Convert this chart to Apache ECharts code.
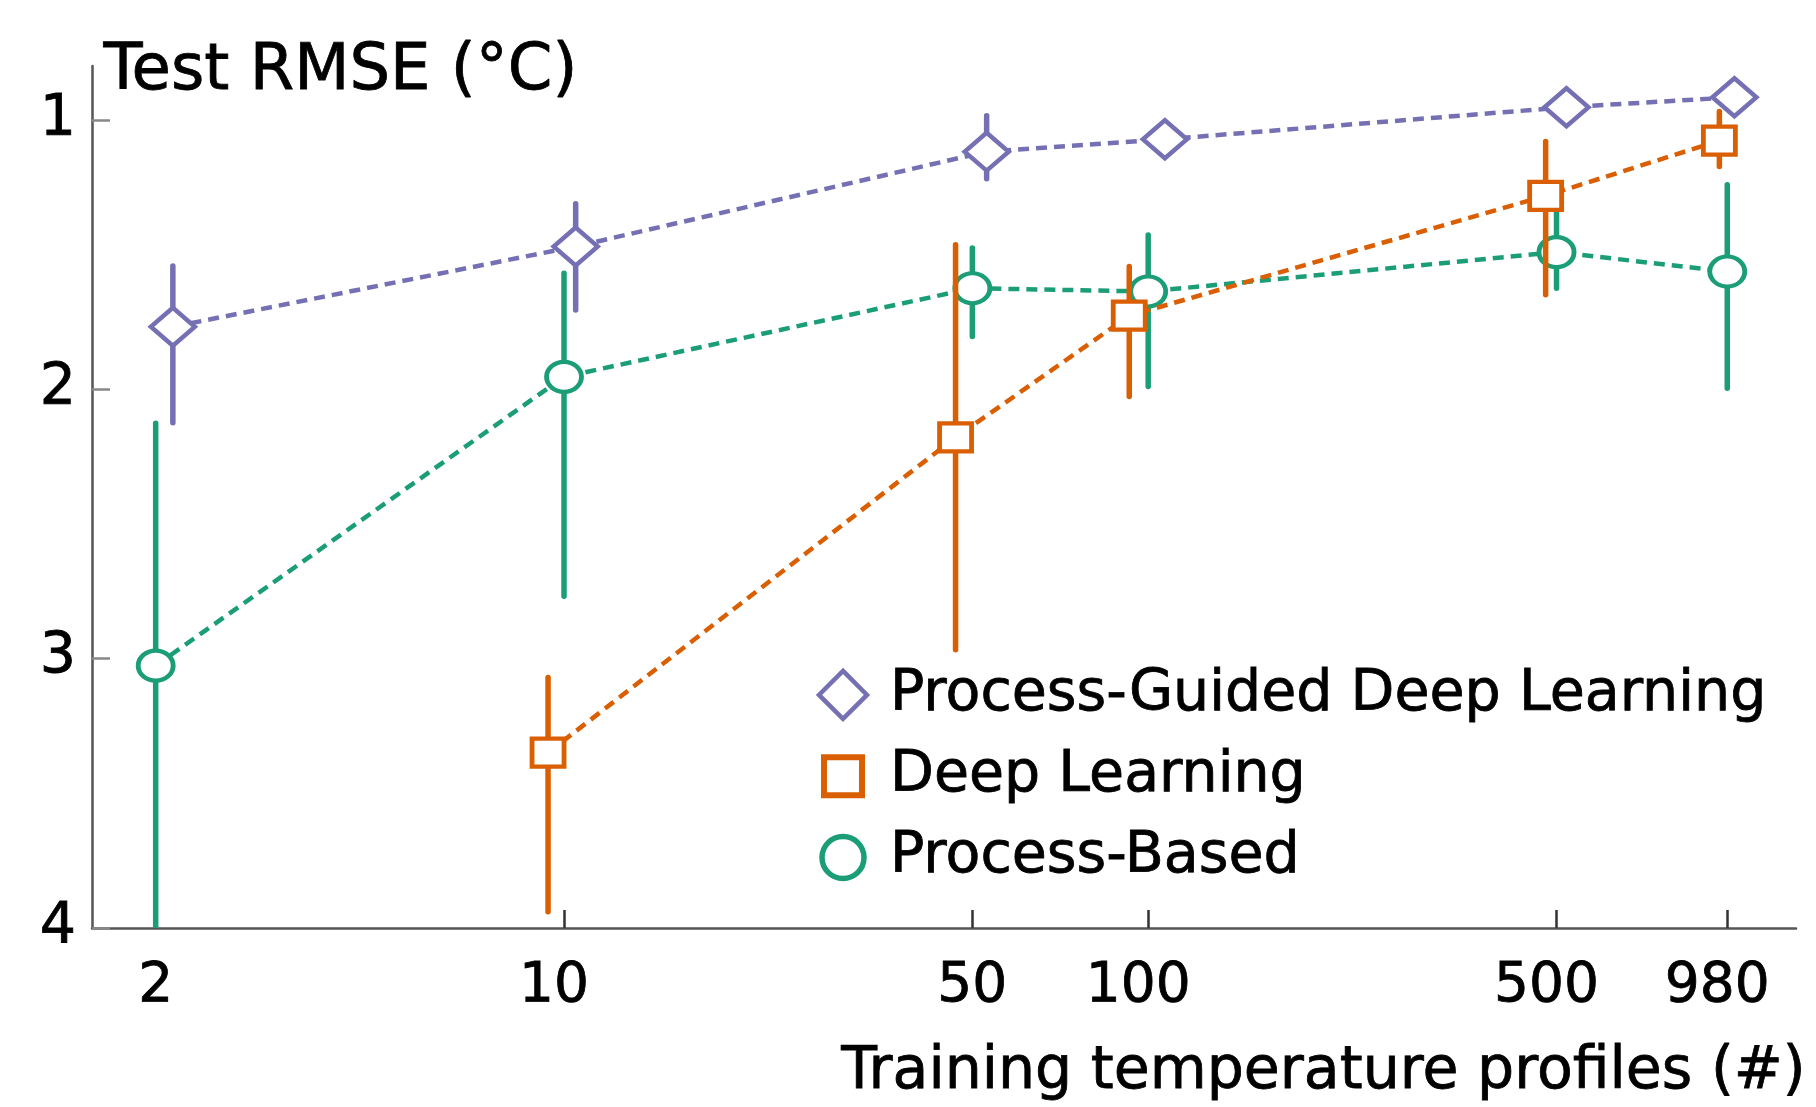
<!DOCTYPE html>
<html>
<head>
<meta charset="utf-8">
<script src="https://cdn.jsdelivr.net/npm/echarts@6/dist/echarts.min.js"></script>
<style>
html,body{margin:0;padding:0;background:#fff;}
#chart{width:1816px;height:1107px;}
</style>
</head>
<body>
<div id="chart"></div>
<script>
// ---- data ----
const xTicks = [2, 10, 50, 100, 500, 980];
const yTicks = [1, 2, 3, 4];

const seriesNames = ['Process-Guided Deep Learning', 'Deep Learning', 'Process-Based'];

// Process-Guided Deep Learning
const pgdlX   = [2.14, 10.47, 52.9, 106.8, 520, 1008];
const pgdlY   = [1.768, 1.470, 1.118, 1.072, 0.953, 0.916];
const pgdlLo  = [1.542, 1.311, 0.985, 1.030, 0.925, 0.890];
const pgdlHi  = [2.124, 1.706, 1.219, 1.110, 0.985, 0.945];

// Deep Learning
const dlX  = [9.39, 46.8, 92.8, 479, 950];
const dlY  = [3.349, 2.179, 1.727, 1.282, 1.077];
const dlLo = [3.070, 1.464, 1.544, 1.080, 0.969];
const dlHi = [3.940, 2.967, 2.027, 1.649, 1.173];

// Process-Based
const pbX  = [2, 10, 50, 100, 500, 980];
const pbY  = [3.026, 1.954, 1.625, 1.637, 1.491, 1.563];
const pbLo = [2.126, 1.569, 1.476, 1.427, 1.330, 1.241];
const pbHi = [4.000, 2.768, 1.804, 1.990, 1.625, 1.996];

const colors = { pgdl: '#7570b3', dl: '#d95f02', pb: '#1b9e77' };
const FONT = '"DejaVu Sans", sans-serif';

function pts(xs, ys) { return xs.map((x, i) => [x, ys[i]]); }
function errs(xs, lo, hi) { return xs.map((x, i) => [x, lo[i], hi[i]]); }

function errSeries(name, data, color, z) {
  return {
    type: 'custom', name: name, z: z, silent: true, clip: true,
    encode: { x: 0, y: [1, 2] },
    data: data,
    renderItem: function (params, api) {
      const x = api.value(0);
      const p1 = api.coord([x, api.value(1)]);
      const p2 = api.coord([x, api.value(2)]);
      return {
        type: 'line',
        shape: { x1: p1[0], y1: p1[1], x2: p2[0], y2: p2[1] },
        style: { stroke: color, lineWidth: 5.5, lineCap: 'round' }
      };
    }
  };
}

function lineSeries(name, data, color, symbol, size, z) {
  return {
    type: 'line', name: name, z: z, data: data, color: color,
    symbol: symbol, symbolSize: size, showAllSymbol: true,
    itemStyle: { color: '#fff', borderColor: color, borderWidth: 4.5 },
    lineStyle: { color: color, width: 4.5, type: [11, 7] },
    emphasis: { disabled: true }
  };
}

const squareIcon = 'path://M0,0 M48,48 M5,5 L43,5 L43,43 L5,43 Z';
const circleIcon = 'path://M0,0 M48,48 M3,24 A21,21 0 1 1 45,24 A21,21 0 1 1 3,24 Z';

const chart = echarts.init(document.getElementById('chart'), null, { renderer: 'canvas' });
chart.setOption({
  animation: false,
  backgroundColor: '#fff',
  grid: { left: 92, right: 20, top: 66, bottom: 179, containLabel: false },
  xAxis: {
    type: 'log', logBase: 10, min: 1.556, max: 1285,
    axisLine: { show: true, onZero: false, lineStyle: { color: '#555', width: 2.5 } },
    axisTick: { show: true, inside: true, length: 18, customValues: xTicks,
                lineStyle: { color: '#333', width: 2.5 } },
    axisLabel: { show: true, customValues: xTicks, margin: 31,
                 color: '#000', fontSize: 55, fontFamily: FONT,
                 textBorderColor: '#000', textBorderWidth: 0.8,
                 formatter: function (v) {
                   const n = Math.round(v);
                   return (n === 2 || n === 50) ? '{a|' + n + '}' : '{b|' + n + '}';
                 },
                 rich: {
                   a: { fontSize: 55, fontFamily: FONT, color: '#000',
                        textBorderColor: '#000', textBorderWidth: 0.8 },
                   b: { fontSize: 55, fontFamily: FONT, color: '#000',
                        textBorderColor: '#000', textBorderWidth: 0.8, padding: [0, 20, 0, 0] }
                 } },
    splitLine: { show: false },
    minorTick: { show: false }, minorSplitLine: { show: false }
  },
  yAxis: {
    type: 'value', inverse: true, min: 0.8, max: 4,
    axisLine: { show: true, lineStyle: { color: '#555', width: 2.5 } },
    axisTick: { show: true, inside: true, length: 18, customValues: yTicks,
                lineStyle: { color: '#888', width: 2.5 } },
    axisLabel: { show: true, customValues: yTicks, margin: 16,
                 color: '#000', fontSize: 57, fontFamily: FONT,
                 textBorderColor: '#000', textBorderWidth: 0.8,
                 padding: [0, 0, 16, 0] },
    splitLine: { show: false }
  },
  legend: {
    orient: 'vertical', left: 811, top: 661,
    itemWidth: 48, itemHeight: 48, itemGap: 23.5,
    selectedMode: false,
    textStyle: { color: '#000', fontSize: 57, fontFamily: FONT, lineHeight: 57,
                 textBorderColor: '#000', textBorderWidth: 0.8,
                 padding: [0, 0, 0, 18] },
    data: [
      { name: seriesNames[0], icon: 'diamond',
        itemStyle: { color: '#fff', borderColor: colors.pgdl, borderWidth: 4.5 } },
      { name: seriesNames[1], icon: squareIcon,
        itemStyle: { color: '#fff', borderColor: colors.dl, borderWidth: 6 } },
      { name: seriesNames[2], icon: circleIcon,
        itemStyle: { color: '#fff', borderColor: colors.pb, borderWidth: 5.5 } }
    ]
  },
  graphic: [
    { type: 'text', left: 103, top: 40, silent: true,
      style: { text: 'Test RMSE (°C)', fill: '#000', font: '64px ' + FONT,
               stroke: '#000', lineWidth: 0.8 } },
    { type: 'text', right: 10, top: 1043, silent: true,
      style: { text: 'Training temperature profiles (#)', fill: '#000', font: '58.5px ' + FONT,
               stroke: '#000', lineWidth: 0.8 } }
  ],
  series: [
    errSeries('pb-err', errs(pbX, pbLo, pbHi), colors.pb, 1),
    lineSeries(seriesNames[2], pts(pbX, pbY), colors.pb, 'circle', [35, 30], 2),
    errSeries('dl-err', errs(dlX, dlLo, dlHi), colors.dl, 3),
    lineSeries(seriesNames[1], pts(dlX, dlY), colors.dl, 'rect', [32, 28], 4),
    errSeries('pgdl-err', errs(pgdlX, pgdlLo, pgdlHi), colors.pgdl, 5),
    lineSeries(seriesNames[0], pts(pgdlX, pgdlY), colors.pgdl, 'diamond', [44, 38], 6)
  ]
});
</script>
</body>
</html>
